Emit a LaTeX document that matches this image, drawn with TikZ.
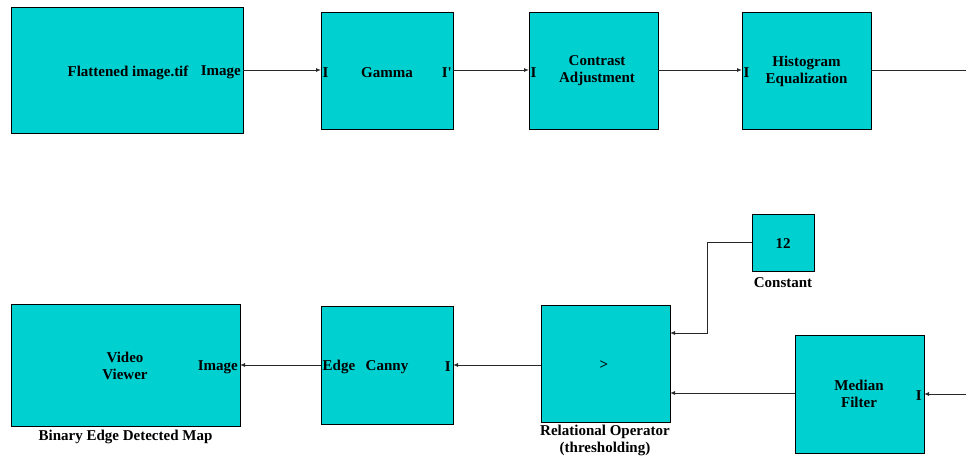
\documentclass[tikz,border=0pt]{standalone}
\usepackage{fontspec}
\setmainfont{Liberation Serif}
\usetikzlibrary{arrows.meta}
\definecolor{blkfill}{RGB}{0,208,208}
\definecolor{wire}{RGB}{40,40,40}
\begin{document}
\begin{tikzpicture}[x=1pt,y=-1pt,
  blk/.style={draw=black,line width=0.9pt,fill=blkfill,inner sep=0pt,outer sep=0pt},
  txt/.style={font=\fontsize{15}{17}\selectfont\bfseries,inner sep=0pt,align=center},
  conn/.style={draw=wire,line width=0.9pt,-{Latex[length=5pt,width=4pt]}},
  plain/.style={draw=wire,line width=0.9pt}]
\useasboundingbox (0,0) rectangle (966,460);
% top row
\node[blk,minimum width=232pt,minimum height=126pt] (flat) at (127,70) {};
\node[blk,minimum width=132pt,minimum height=117pt] (gamma) at (387,70.5) {};
\node[blk,minimum width=129pt,minimum height=117pt] (contr) at (593.5,70.5) {};
\node[blk,minimum width=129pt,minimum height=117pt] (hist) at (806.5,70.5) {};
% bottom row
\node[blk,minimum width=229pt,minimum height=122pt] (video) at (125.5,365) {};
\node[blk,minimum width=132pt,minimum height=118pt] (canny) at (387,365) {};
\node[blk,minimum width=129pt,minimum height=117pt] (rel) at (605.5,363.5) {};
\node[blk,minimum width=62pt,minimum height=57pt] (const) at (783,242.5) {};
\node[blk,minimum width=129pt,minimum height=118pt] (med) at (859.5,394) {};
% texts
\node[txt] (tflat) at (128,72.5) {Flattened image.tif};
\node[txt,anchor=east] (pflat) at (241,72.5) {Image};
\node[txt,anchor=west] (pgi) at (322.5,72.5) {I};
\node[txt] (tgamma) at (387,72.5) {Gamma};
\node[txt,anchor=east] (pgo) at (452,72.5) {I\textquotesingle};
\node[txt,anchor=west] (pci) at (530.5,72.5) {I};
\node[txt] (tcontr) at (597,71) {Contrast\\Adjustment};
\node[txt,anchor=west] (phi) at (743.5,72.5) {I};
\node[txt] (thist) at (806.5,71) {Histogram\\Equalization};
\node[txt] (tvideo) at (125,366) {Video\\Viewer};
\node[txt,anchor=east] (pvid) at (238,367) {Image};
\node[txt,anchor=west] (pce) at (322.5,367) {Edge};
\node[txt] (tcanny) at (387,367) {Canny};
\node[txt,anchor=east] (pci2) at (451,367) {I};
\node[txt] (trel) at (604,365) {>};
\node[txt] (tconst) at (783,244) {12};
\node[txt] (tmed) at (859,394) {Median\\Filter};
\node[txt,anchor=east] (pmi) at (922,396) {I};
\node[txt] (lvideo) at (125.5,437) {Binary Edge Detected Map};
\node[txt] (lrel) at (605,440.5) {Relational Operator\\(thresholding)};
\node[txt] (lconst) at (783,282.5) {Constant};
% connectors
\draw[conn] (flat.east |- 0,70) -- (gamma.west |- 0,70);
\draw[conn] (gamma.east |- 0,70) -- (contr.west |- 0,70);
\draw[conn] (contr.east |- 0,70) -- (hist.west |- 0,70);
\coordinate (hout) at (966,70);
\draw[plain] (hist.east |- 0,70) -- (hout);
\draw[conn] (canny.west |- 0,365) -- (video.east |- 0,365);
\draw[conn] (rel.west |- 0,365) -- (canny.east |- 0,365);
\coordinate (cbend) at (707,242);
\draw[conn] (const.west |- 0,242) -- (cbend) -- (707,333) -- (rel.east |- 0,333);
\draw[conn] (med.west |- 0,393) -- (rel.east |- 0,393);
\coordinate (min) at (966,394);
\draw[conn] (min) -- (med.east |- 0,394);
\end{tikzpicture}
\end{document}
